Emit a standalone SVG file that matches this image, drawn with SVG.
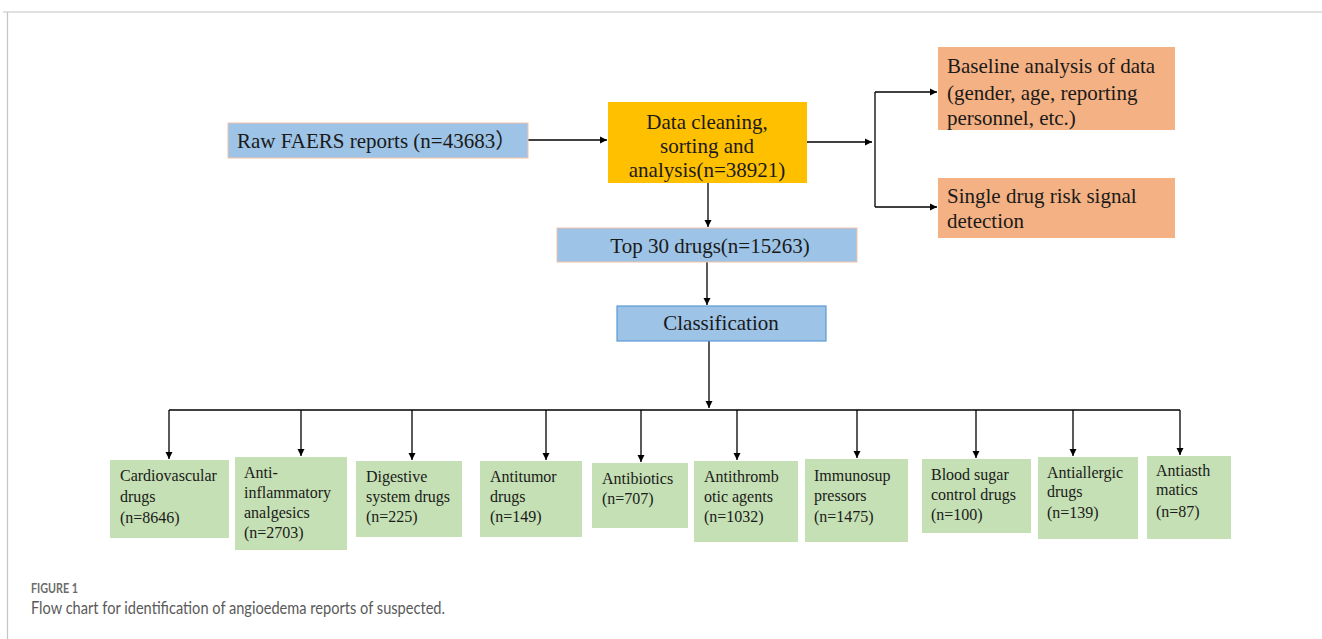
<svg xmlns="http://www.w3.org/2000/svg" width="1322" height="639" viewBox="0 0 1322 639">
<defs>
<marker id="ah" markerWidth="8" markerHeight="8" refX="7" refY="4" orient="auto" markerUnits="userSpaceOnUse">
<path d="M0,0.5 L7,4 L0,7.5 Z" fill="#000"/>
</marker>
<style>
.t{font-family:"Liberation Serif","Times New Roman","Noto Sans CJK SC",serif;fill:#1a1a1a}
.big{font-size:21px}
.sm{font-size:16px}
.blue{fill:#9dc3e6}
.yel{fill:#ffc000}
.pch{fill:#f4b183}
.grn{fill:#c5e0b4}
.c{fill:none;stroke:#000;stroke-width:1.3}
.ca{fill:none;stroke:#000;stroke-width:1.3;marker-end:url(#ah)}
</style>
</defs>
<rect width="1322" height="639" fill="#fff"/>
<path d="M3,12 H1322 M7.5,12 V639" stroke="#c4c4c4" stroke-width="1.2" fill="none"/>

<g id="connectors">
<line class="ca" x1="528" y1="140" x2="607" y2="140"/>
<line class="ca" x1="807" y1="142" x2="872" y2="142"/>
<path class="c" d="M875,92 V207"/>
<line class="ca" x1="875" y1="92" x2="937" y2="92"/>
<line class="ca" x1="875" y1="207" x2="937" y2="207"/>
<line class="ca" x1="708" y1="183" x2="708" y2="227"/>
<line class="ca" x1="707" y1="262" x2="707" y2="305"/>
<line class="ca" x1="709" y1="341" x2="709" y2="408"/>
<path class="c" d="M169,410 H1180"/>
<line class="ca" x1="169" y1="410" x2="169" y2="459"/>
<line class="ca" x1="301" y1="410" x2="301" y2="456"/>
<line class="ca" x1="412" y1="410" x2="412" y2="460"/>
<line class="ca" x1="546" y1="410" x2="546" y2="460"/>
<line class="ca" x1="641" y1="410" x2="641" y2="462"/>
<line class="ca" x1="737" y1="410" x2="737" y2="460"/>
<line class="ca" x1="857" y1="410" x2="857" y2="458"/>
<line class="ca" x1="976" y1="410" x2="976" y2="458"/>
<line class="ca" x1="1073" y1="410" x2="1073" y2="456"/>
<line class="ca" x1="1180" y1="410" x2="1180" y2="455"/>
</g>

<g id="raw">
<rect class="blue" x="228" y="123" width="300" height="35" stroke="#f1c2a8" stroke-width="1"/>
<text class="t big" x="237" y="148">Raw FAERS reports (n=43683）</text>
</g>
<g id="clean">
<rect class="yel" x="608" y="102" width="199" height="81"/>
<text class="t big" text-anchor="middle" x="707" y="129">Data cleaning,</text>
<text class="t big" text-anchor="middle" x="707" y="153">sorting and</text>
<text class="t big" text-anchor="middle" x="707" y="177">analysis(n=38921)</text>
</g>
<g id="baseline">
<rect class="pch" x="938" y="47" width="237" height="83"/>
<text class="t big" x="947" y="73">Baseline analysis of data</text>
<text class="t big" x="947" y="100">(gender, age, reporting</text>
<text class="t big" x="947" y="125">personnel, etc.)</text>
</g>
<g id="single">
<rect class="pch" x="938" y="178" width="237" height="60"/>
<text class="t big" x="947" y="203">Single drug risk signal</text>
<text class="t big" x="947" y="228">detection</text>
</g>
<g id="top30">
<rect class="blue" x="557" y="228" width="300" height="34" stroke="#f1c2a8" stroke-width="1"/>
<text class="t big" text-anchor="middle" x="710" y="253">Top 30 drugs(n=15263)</text>
</g>
<g id="classification">
<rect class="blue" x="617" y="306" width="209" height="35" stroke="#5b9bd5" stroke-width="1.2"/>
<text class="t big" text-anchor="middle" x="721" y="330">Classification</text>
</g>

<g id="cardio">
<rect class="grn" x="110" y="460" width="119" height="78"/>
<text class="t sm" x="120" y="481">Cardiovascular</text>
<text class="t sm" x="120" y="502">drugs</text>
<text class="t sm" x="120" y="523">(n=8646)</text>
</g>
<g id="antiinfl">
<rect class="grn" x="235" y="457" width="112" height="93"/>
<text class="t sm" x="244" y="478">Anti-</text>
<text class="t sm" x="244" y="498">inflammatory</text>
<text class="t sm" x="244" y="518">analgesics</text>
<text class="t sm" x="244" y="538">(n=2703)</text>
</g>
<g id="digestive">
<rect class="grn" x="356" y="461" width="106" height="76"/>
<text class="t sm" x="366" y="482">Digestive</text>
<text class="t sm" x="366" y="502">system drugs</text>
<text class="t sm" x="366" y="522">(n=225)</text>
</g>
<g id="antitumor">
<rect class="grn" x="480" y="461" width="102" height="76"/>
<text class="t sm" x="490" y="482">Antitumor</text>
<text class="t sm" x="490" y="502">drugs</text>
<text class="t sm" x="490" y="522">(n=149)</text>
</g>
<g id="antibiotics">
<rect class="grn" x="592" y="463" width="96" height="65"/>
<text class="t sm" x="602" y="484">Antibiotics</text>
<text class="t sm" x="602" y="504">(n=707)</text>
</g>
<g id="antithrombotic">
<rect class="grn" x="694" y="461" width="104" height="81"/>
<text class="t sm" x="704" y="482">Antithromb</text>
<text class="t sm" x="704" y="502">otic agents</text>
<text class="t sm" x="704" y="522">(n=1032)</text>
</g>
<g id="immuno">
<rect class="grn" x="805" y="459" width="103" height="83"/>
<text class="t sm" x="814" y="481">Immunosup</text>
<text class="t sm" x="814" y="501">pressors</text>
<text class="t sm" x="814" y="522">(n=1475)</text>
</g>
<g id="bloodsugar">
<rect class="grn" x="922" y="459" width="109" height="74"/>
<text class="t sm" x="931" y="480">Blood sugar</text>
<text class="t sm" x="931" y="500">control drugs</text>
<text class="t sm" x="931" y="520">(n=100)</text>
</g>
<g id="antiallergic">
<rect class="grn" x="1038" y="457" width="100" height="82"/>
<text class="t sm" x="1047" y="478">Antiallergic</text>
<text class="t sm" x="1047" y="497">drugs</text>
<text class="t sm" x="1047" y="518">(n=139)</text>
</g>
<g id="antiasthmatics">
<rect class="grn" x="1147" y="456" width="84" height="83"/>
<text class="t sm" x="1156" y="476">Antiasth</text>
<text class="t sm" x="1156" y="495">matics</text>
<text class="t sm" x="1156" y="517">(n=87)</text>
</g>

<g id="caption">
<text x="31" y="593" font-family="Lato,'Open Sans',sans-serif" font-size="14" font-weight="bold" fill="#6b6b6b" textLength="47" lengthAdjust="spacingAndGlyphs">FIGURE 1</text>
<text x="31" y="614" font-family="Lato,'Open Sans',sans-serif" font-size="16.5" fill="#5a5a5a" textLength="414" lengthAdjust="spacingAndGlyphs">Flow chart for identification of angioedema reports of suspected.</text>
</g>
</svg>
